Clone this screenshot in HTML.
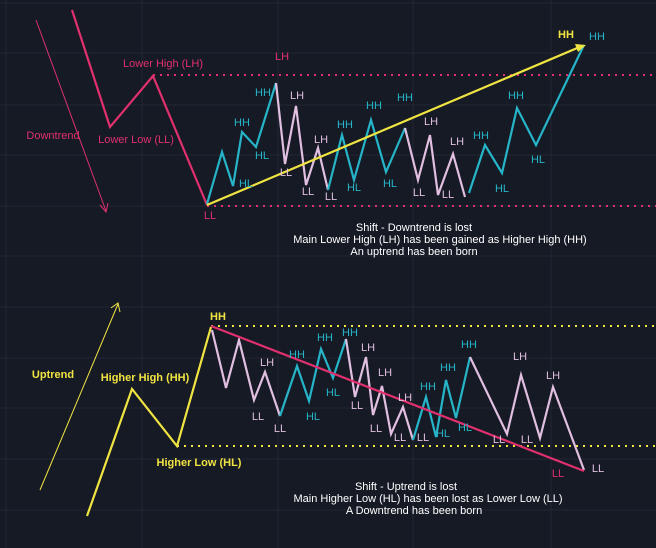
<!DOCTYPE html>
<html><head><meta charset="utf-8"><style>
html,body{margin:0;padding:0;background:#161a25;}
svg{display:block}
text{font-family:"Liberation Sans",sans-serif;font-size:11px;}
</style></head><body>
<svg width="656" height="548" viewBox="0 0 656 548" xmlns="http://www.w3.org/2000/svg">
<rect width="656" height="548" fill="#161a25"/>
<g stroke="#232733" stroke-width="1">
<line x1="6" y1="0" x2="6" y2="548"/><line x1="142" y1="0" x2="142" y2="548"/><line x1="278" y1="0" x2="278" y2="548"/><line x1="413" y1="0" x2="413" y2="548"/><line x1="551" y1="0" x2="551" y2="548"/>
<line x1="0" y1="3" x2="656" y2="3"/><line x1="0" y1="53" x2="656" y2="53"/><line x1="0" y1="105" x2="656" y2="105"/><line x1="0" y1="155" x2="656" y2="155"/><line x1="0" y1="206" x2="656" y2="206"/><line x1="0" y1="256" x2="656" y2="256"/><line x1="0" y1="307" x2="656" y2="307"/><line x1="0" y1="358" x2="656" y2="358"/><line x1="0" y1="408" x2="656" y2="408"/><line x1="0" y1="459" x2="656" y2="459"/><line x1="0" y1="510" x2="656" y2="510"/>
</g>
<!-- TOP -->
<line x1="153" y1="75" x2="656" y2="75" stroke="#e0306e" stroke-width="2" stroke-dasharray="2,5"/>
<line x1="207" y1="206" x2="656" y2="206" stroke="#e0306e" stroke-width="2" stroke-dasharray="2,5"/>
<line x1="36" y1="20" x2="106" y2="211" stroke="#e0306e" stroke-width="1"/>
<polyline points="100,205 106,212 108,203" fill="none" stroke="#e0306e" stroke-width="1"/>
<polyline points="72,10 110,127 153,76 207,205" fill="none" stroke="#e0306e" stroke-width="2.2"/>
<polyline points="207,204 222,152 233,186 242,132 256,147 276,83" fill="none" stroke="#26b5c8" stroke-width="2.2"/>
<polyline points="276,83 285,164 296,106 306,185 318,148 328,190" fill="none" stroke="#e1bfe0" stroke-width="2.2"/>
<polyline points="328,190 342,135 354,180 371,120 386,172 405,128" fill="none" stroke="#26b5c8" stroke-width="2.2"/>
<polyline points="405,128 418,180 430,135 438,195 453,154 465,197" fill="none" stroke="#e1bfe0" stroke-width="2.2"/>
<polyline points="469,193 485,145 502,173 517,108 536,145 584,45" fill="none" stroke="#26b5c8" stroke-width="2.2"/>
<line x1="207" y1="205" x2="582" y2="46" stroke="#f0e442" stroke-width="2.2"/>
<polygon points="586,45 575,44 578,52" fill="#f0e442"/>
<g fill="#26b5c8" text-anchor="middle">
<text x="263" y="96">HH</text><text x="242" y="126">HH</text><text x="262" y="159">HL</text><text x="246" y="187">HL</text>
<text x="345" y="128">HH</text><text x="354" y="191">HL</text><text x="374" y="109">HH</text><text x="390" y="187">HL</text><text x="405" y="101">HH</text>
<text x="481" y="139">HH</text><text x="502" y="192">HL</text><text x="516" y="99">HH</text><text x="538" y="163">HL</text><text x="597" y="40">HH</text>
</g>
<g fill="#e1bfe0" text-anchor="middle">
<text x="297" y="99">LH</text><text x="286" y="176">LL</text><text x="321" y="143">LH</text><text x="308" y="195">LL</text><text x="331" y="200">LL</text>
<text x="431" y="125">LH</text><text x="419" y="196">LL</text><text x="457" y="145">LH</text><text x="448" y="198">LL</text>
</g>
<text x="566" y="38" fill="#f0e442" font-weight="bold" text-anchor="middle">HH</text>
<g fill="#e0306e" text-anchor="middle">
<text x="282" y="60">LH</text><text x="210" y="219">LL</text>
<text x="163" y="67">Lower High (LH)</text><text x="136" y="143">Lower Low (LL)</text><text x="53" y="139">Downtrend</text>
</g>
<g fill="#ffffff" text-anchor="middle">
<text x="414" y="231">Shift - Downtrend is lost</text>
<text x="440" y="243">Main Lower High (LH) has been gained as Higher High (HH)</text>
<text x="414" y="255">An uptrend has been born</text>
</g>
<!-- BOTTOM -->
<line x1="211" y1="326" x2="656" y2="326" stroke="#f0e442" stroke-width="2" stroke-dasharray="2,5"/>
<line x1="177" y1="446" x2="656" y2="446" stroke="#f0e442" stroke-width="2" stroke-dasharray="2,5"/>
<line x1="40" y1="490" x2="118" y2="304" stroke="#f0e442" stroke-width="1"/>
<polyline points="111,308 118,303 120,312" fill="none" stroke="#f0e442" stroke-width="1"/>
<polyline points="87,516 132,389 177,446 211,327" fill="none" stroke="#f0e442" stroke-width="2.2"/>
<polyline points="212,330 226,388 239,340 254,400 265,372 280,416" fill="none" stroke="#e1bfe0" stroke-width="2.2"/>
<polyline points="280,416 297,366 309,401 321,349 333,378 346,339" fill="none" stroke="#26b5c8" stroke-width="2.2"/>
<polyline points="346,339 355,397 366,357 373,415 382,386 391,434 403,407 413,440" fill="none" stroke="#e1bfe0" stroke-width="2.2"/>
<polyline points="413,440 426,397 436,437 446,380 456,418 470,357" fill="none" stroke="#26b5c8" stroke-width="2.2"/>
<polyline points="470,357 507,434 521,375 540,438 553,387 584,470" fill="none" stroke="#e1bfe0" stroke-width="2.2"/>
<line x1="211" y1="326" x2="584" y2="471" stroke="#e0306e" stroke-width="2.2"/>
<g fill="#26b5c8" text-anchor="middle">
<text x="297" y="358">HH</text><text x="313" y="420">HL</text><text x="325" y="341">HH</text><text x="350" y="336">HH</text><text x="333" y="396">HL</text>
<text x="428" y="390">HH</text><text x="448" y="371">HH</text><text x="443" y="437">HL</text><text x="465" y="431">HL</text><text x="469" y="348">HH</text>
</g>
<g fill="#e1bfe0" text-anchor="middle">
<text x="258" y="420">LL</text><text x="267" y="366">LH</text><text x="280" y="432">LL</text>
<text x="368" y="351">LH</text><text x="357" y="409">LL</text><text x="385" y="376">LH</text><text x="376" y="432">LL</text><text x="405" y="401">LH</text><text x="400" y="441">LL</text><text x="423" y="441">LL</text>
<text x="520" y="360">LH</text><text x="499" y="443">LL</text><text x="553" y="379">LH</text><text x="527" y="443">LL</text><text x="598" y="472">LL</text>
</g>
<text x="558" y="477" fill="#e0306e" text-anchor="middle">LL</text>
<g fill="#f0e442" font-weight="bold" text-anchor="middle">
<text x="218" y="320">HH</text><text x="145" y="381">Higher High (HH)</text><text x="199" y="466">Higher Low (HL)</text><text x="53" y="378">Uptrend</text>
</g>
<g fill="#ffffff" text-anchor="middle">
<text x="406" y="490">Shift - Uptrend is lost</text>
<text x="428" y="502">Main Higher Low (HL) has been lost as Lower Low (LL)</text>
<text x="414" y="514">A Downtrend has been born</text>
</g>
</svg>
</body></html>
